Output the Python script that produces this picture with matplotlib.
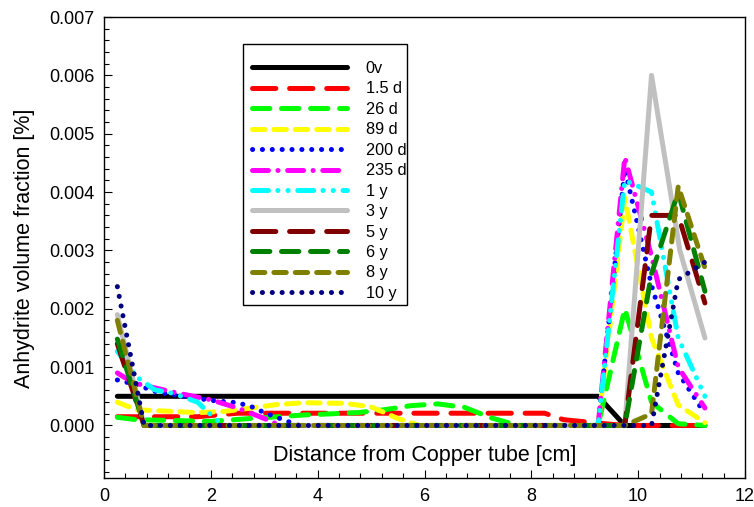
import matplotlib
matplotlib.use('Agg')
import matplotlib.pyplot as plt
from matplotlib.ticker import MultipleLocator, FormatStrFormatter
from matplotlib.patches import Rectangle

plt.rcParams['font.family'] = ['Liberation Sans', 'DejaVu Sans']
plt.rcParams['lines.scale_dashes'] = False

# ---------------- data ----------------
labels = ['0v', '1.5 d', '26 d', '89 d', '200 d', '235 d',
          '1 y', '3 y', '5 y', '6 y', '8 y', '10 y']

x_0v = [0.25, 9.25, 9.75, 11.25]
y_0v = [0.0005, 0.0005, 0.0, 0.0]

x_1_5d = [0.25, 1.75, 2.5, 8.25, 8.6, 9.25, 9.75, 11.25]
y_1_5d = [0.00015, 0.00015, 0.00021, 0.00021, 0.0001, 0.00004, 0.0, 0.0]

x_26d = [0.25, 0.6, 2.0, 2.75, 3.25, 3.75, 4.25, 4.75, 5.25, 5.75, 6.25,
         6.75, 7.25, 7.75, 9.25, 9.75, 10.25, 10.75, 11.25]
y_26d = [0.00014, 0.0001, 0.00007, 0.00012, 0.00015, 0.00018, 0.0002,
         0.00022, 0.00027, 0.00034, 0.00037, 0.00031, 0.00013, 0.0, 0.0,
         0.002, 0.0004, 0.00003, 0.0]

x_89d = [0.25, 0.6, 1.75, 2.25, 2.75, 3.25, 3.75, 4.5, 5.0, 5.5, 5.9,
         9.25, 9.75, 10.25, 10.75, 11.25]
y_89d = [0.0004, 0.00027, 0.00022, 0.00024, 0.0003, 0.00036, 0.00039,
         0.00038, 0.00032, 0.00012, 0.0, 0.0, 0.0039, 0.0015, 0.00035, 0.00005]

x_200d = [0.25, 0.6, 1.0, 1.5, 2.0, 2.5, 2.8, 3.0, 3.35, 3.65,
          9.25, 9.75, 10.25, 10.75, 11.25]
y_200d = [0.00078, 0.0007, 0.00057, 0.0005, 0.00043, 0.00039, 0.00031,
          0.00022, 0.0001, 0.0, 0.0, 0.0044, 0.0024, 0.0009, 0.0002]

x_235d = [0.25, 0.55, 1.35, 2.0, 2.5, 3.0, 3.3, 9.25, 9.75, 10.25, 10.75, 11.25]
y_235d = [0.0009, 0.00073, 0.00056, 0.00044, 0.0003, 0.00012, 0.0, 0.0,
          0.0046, 0.0029, 0.001, 0.0003]

x_1y = [0.25, 0.6, 0.95, 1.3, 1.75, 2.1, 2.25, 9.25, 9.75, 10.25, 10.75, 11.25]
y_1y = [0.00127, 0.00084, 0.00061, 0.00055, 0.0004, 0.0001, 0.0, 0.0,
        0.0042, 0.004, 0.0015, 0.0005]

x_3y = [0.25, 0.75, 9.75, 10.25, 10.78, 11.25]
y_3y = [0.0019, 0.0, 0.0, 0.006, 0.003, 0.0015]

x_5y = [0.25, 0.75, 9.75, 10.25, 10.75, 11.25]
y_5y = [0.0014, 0.0, 0.0, 0.0036, 0.0036, 0.0021]

x_6y = [0.25, 0.75, 9.75, 10.25, 10.75, 11.25]
y_6y = [0.00148, 0.0, 0.0, 0.0026, 0.004, 0.0023]

x_8y = [0.25, 0.75, 9.75, 10.25, 10.75, 11.25]
y_8y = [0.0018, 0.0, 0.0, 0.0002, 0.0041, 0.0027]

x_10y = [0.25, 0.75, 10.25, 10.75, 11.25]
y_10y = [0.00238, 0.0, 0.0, 0.0025, 0.0028]

xs = [x_0v, x_1_5d, x_26d, x_89d, x_200d, x_235d, x_1y, x_3y, x_5y, x_6y, x_8y, x_10y]
ys = [y_0v, y_1_5d, y_26d, y_89d, y_200d, y_235d, y_1y, y_3y, y_5y, y_6y, y_8y, y_10y]

colors = ['#000000', '#FF0000', '#00FF00', '#FFFF00', '#0000FF', '#FF00FF',
          '#00FFFF', '#C0C0C0', '#800000', '#008000', '#808000', '#000080']

solid = '-'
long_dash = (0, (16.8, 9.9))
med_dash = (0, (12.5, 8.4))
short_dash = (0, (8.9, 6.5))
dotted = (0, (0.1, 7.0))
dash_dot = (0, (11.5, 6.8, 0.1, 6.9))
dash_dot_dot = (0, (11.5, 6.7, 0.1, 7.2, 0.1, 7.0))
styles = [solid, long_dash, med_dash, short_dash, dotted, dash_dot,
          dash_dot_dot, solid, long_dash, med_dash, short_dash, dotted]

# ---------------- figure ----------------
W, H = 754, 507
fig = plt.figure(figsize=(W / 100, H / 100), dpi=100)
L, R, T, B = 104, 745, 17, 478
ax = fig.add_axes([L / W, 1 - B / H, (R - L) / W, (B - T) / H])

handles = []
for x, y, c, ls, lab in zip(xs, ys, colors, styles, labels):
    h, = ax.plot(x, y, color=c, lw=3.6, linestyle=ls, label=lab,
                 solid_capstyle='round', dash_capstyle='round',
                 solid_joinstyle='round', dash_joinstyle='round')
    handles.append(h)

ax.set_xlim(0, 12)
ax.set_ylim(-0.0009, 0.007)
ax.xaxis.set_major_locator(MultipleLocator(2))
ax.xaxis.set_minor_locator(MultipleLocator(0.4))
ax.yaxis.set_major_locator(MultipleLocator(0.001))
ax.yaxis.set_minor_locator(MultipleLocator(0.0002))
ax.yaxis.set_major_formatter(FormatStrFormatter('%.3f'))
ax.tick_params(which='both', direction='in', top=False, right=False,
               labelsize=13, width=0.8, color='black')
ax.tick_params(which='major', length=6, pad=7)
ax.tick_params(which='minor', length=3.5)
for s in ax.spines.values():
    s.set_linewidth(1.0)

ax.text(0.5, (B - 455) / (B - T), 'Distance from Copper tube [cm]',
        transform=ax.transAxes, ha='center', va='center', fontsize=15.5)
fig.text(24.6 / W, 1 - 248 / H, 'Anhydrite volume fraction [%]',
         rotation=90, ha='center', va='center', fontsize=15.5)

leg = fig.legend(handles=handles, loc='upper left',
                 bbox_to_anchor=(252 / W, 1 - 61 / H), frameon=False,
                 fontsize=11.7, handlelength=5.85, handletextpad=1.15,
                 labelspacing=0.335, borderpad=0, borderaxespad=0)
fig.patches.append(Rectangle((243 / W, 1 - 305 / H), (407 - 243) / W,
                             (305 - 44) / H, transform=fig.transFigure,
                             fill=False, edgecolor='black', lw=1.0))

fig.savefig('out.png', dpi=100)
